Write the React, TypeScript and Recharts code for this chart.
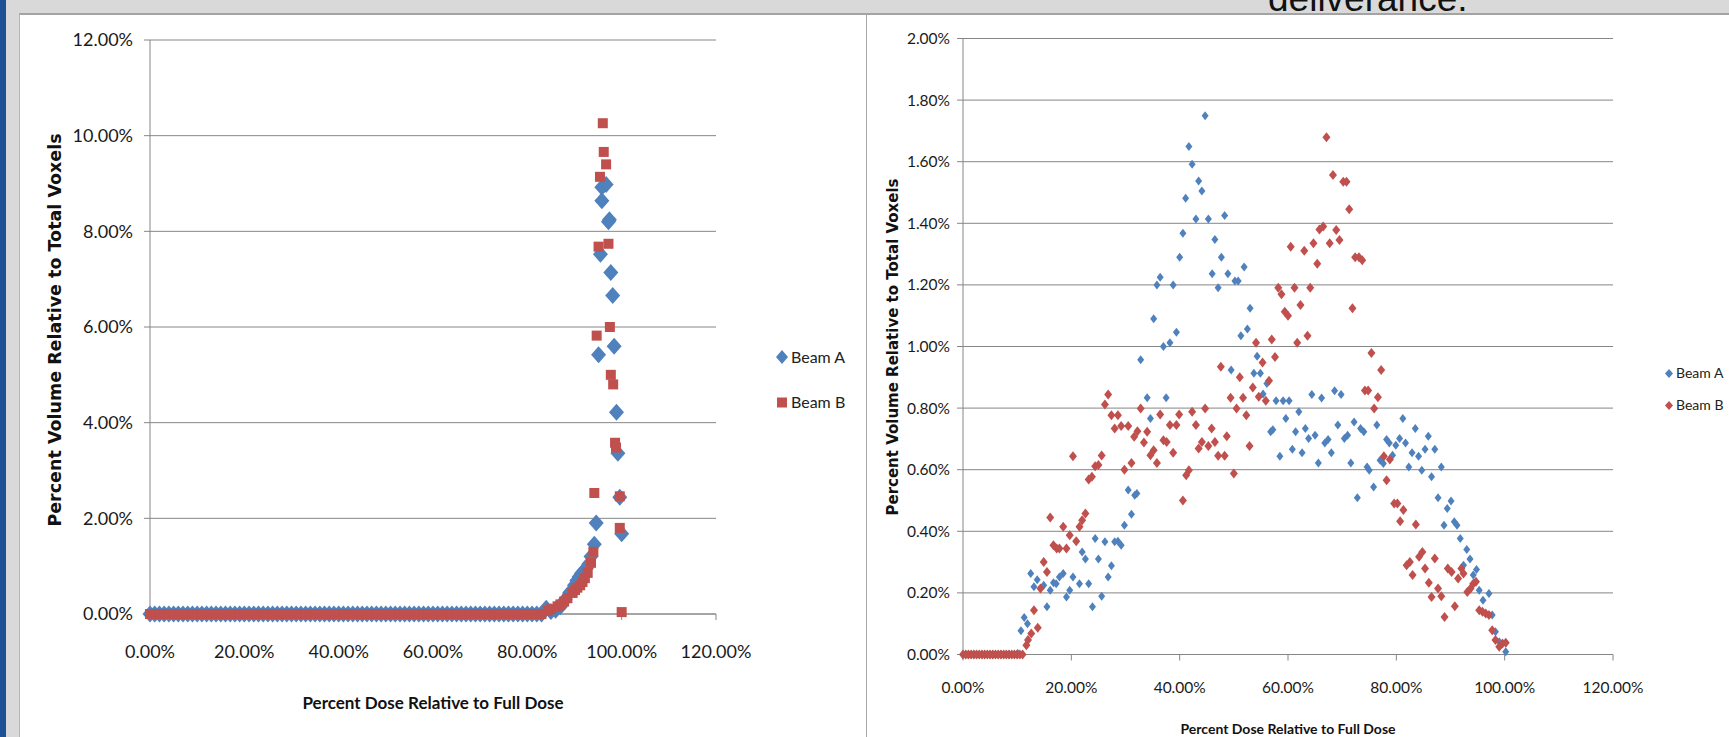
import React from "react";
import { ScatterChart, Scatter, XAxis, YAxis, CartesianGrid } from "recharts";

const BLUE = "#4f81bd";
const RED = "#c0504d";
const GRID = "#868686";
const CALIBRI = "Lato, 'Open Sans', sans-serif";
const VERDANA = "'DejaVu Sans', Verdana, sans-serif";

const seriesNames = ["Beam A", "Beam B"];
const doseTicks = [0, 20, 40, 60, 80, 100, 120];
const leftVolumeTicks = [0, 2, 4, 6, 8, 10, 12];
const rightVolumeTicks = [0, 0.2, 0.4, 0.6, 0.8, 1, 1.2, 1.4, 1.6, 1.8, 2];

// left chart: both beams sit on 0% for every dose bin up to ~83%
const leftZeroDose = [
  0, 1, 2, 3, 4, 5, 6, 7, 8, 9, 10, 11, 12, 13, 14, 15, 16, 17, 18, 19, 20, 21, 22, 23, 24, 25, 26, 27,
  28, 29, 30, 31, 32, 33, 34, 35, 36, 37, 38, 39, 40, 41, 42, 43, 44, 45, 46, 47, 48, 49, 50, 51, 52, 53,
  54, 55, 56, 57, 58, 59, 60, 61, 62, 63, 64, 65, 66, 67, 68, 69, 70, 71, 72, 73, 74, 75, 76, 77, 78, 79,
  80, 81, 82, 83,
];

const leftBeamADose = [
  84, 85, 86, 87, 88, 89, 90, 90.5, 91, 91.5, 92, 92.5, 93, 93.5, 94.2, 94.6, 95.1, 95.5, 95.8, 95.8,
  96.7, 97.2, 97.4, 97.7, 98.1, 98.4, 98.9, 99.2, 99.6, 100,
];
const leftBeamAVolume = [
  0.12, 0.05, 0.08, 0.15, 0.3, 0.45, 0.6, 0.7, 0.78, 0.85, 0.9, 0.95, 1.04, 1.2, 1.46, 1.9, 5.42, 7.52,
  8.64, 8.92, 8.98, 8.2, 8.24, 7.14, 6.66, 5.6, 4.22, 3.36, 2.44, 1.68,
];

const leftBeamBDose = [
  84.3, 85, 86.4, 87, 87.8, 88.5, 89.6, 90.1, 90.6, 91.2, 91.7, 92.2, 92.8, 93.5, 94, 94.2, 94.7, 95.1,
  95.4, 96, 96.2, 96.7, 97.2, 97.5, 97.7, 98.2, 98.6, 98.8, 99.6, 99.6, 100,
];
const leftBeamBVolume = [
  0.07, 0.1, 0.16, 0.2, 0.26, 0.33, 0.44, 0.5, 0.55, 0.6, 0.67, 0.75, 0.86, 1.07, 1.3, 2.53, 5.82, 7.68,
  9.14, 10.26, 9.66, 9.4, 7.74, 6.0, 5.0, 4.8, 3.58, 3.48, 2.46, 1.8, 0.04,
];

const rightBeamADose = [
  0, 0.5, 1, 1.5, 2, 2.5, 3, 3.5, 4, 4.5, 5, 5.5, 6, 6.5, 7, 7.5, 8, 8.5, 9, 9.5, 10, 10.1,
  10.7, 11.3, 11.9, 12.5, 13.1, 13.7, 14.9, 15.5, 16.1, 16.7, 17.2, 17.8, 18.5, 19.1, 19.7, 20.3,
  21.5, 22, 22.6, 23.2, 23.9, 24.4, 25, 25.6, 26.2, 26.8, 27.4, 28, 28.6, 29.2, 29.8, 30.5, 31.1,
  31.7, 32.1, 32.8, 34, 34.6, 35.2, 35.8, 36.4, 37, 37.5, 38.2, 38.8, 39.4, 40, 40.6, 41.1, 41.7,
  42.3, 43, 43.5, 44.1, 44.7, 45.3, 46, 46.5, 47.1, 47.7, 48.3, 48.9, 49.5, 50.2, 50.8, 51.3, 51.9,
  52.5, 53, 53.7, 54.3, 54.9, 55.4, 56.1, 56.8, 57.2, 57.8, 58.5, 59.1, 59.6, 60.2, 60.8, 61.4, 62,
  62.6, 63.2, 63.8, 64.4, 65, 65.6, 66.2, 66.8, 67.4, 68, 68.6, 69.2, 69.8, 70.4, 71, 71.6, 72.2,
  72.8, 73.4, 74, 74.6, 75, 75.8, 76.4, 77, 77.6, 78.2, 78.7, 79.3, 79.9, 80.6, 81.2, 81.7, 82.3,
  82.9, 83.5, 84.1, 84.7, 85.3, 85.9, 86.5, 87.1, 87.7, 88.3, 88.8, 89.4, 90.1, 90.7, 91.2, 91.8,
  92.4, 93, 93.6, 94.2, 94.8, 95.3, 96, 97.1, 97.7, 98.3, 99, 100.2,
];
const rightBeamAVolume = [
  0, 0, 0, 0, 0, 0, 0, 0, 0, 0, 0, 0, 0, 0, 0, 0, 0, 0, 0, 0, 0, 0.003,
  0.077, 0.12, 0.1, 0.263, 0.22, 0.243, 0.225, 0.155, 0.209, 0.233, 0.23, 0.252, 0.263, 0.187, 0.209, 0.252,
  0.23, 0.333, 0.31, 0.23, 0.155, 0.377, 0.31, 0.189, 0.366, 0.252, 0.288, 0.366, 0.368, 0.355, 0.42, 0.534, 0.455,
  0.517, 0.523, 0.957, 0.834, 0.766, 1.09, 1.2, 1.225, 1.0, 0.834, 1.012, 1.2, 1.046, 1.29, 1.368, 1.481, 1.649,
  1.592, 1.414, 1.537, 1.505, 1.749, 1.414, 1.236, 1.347, 1.191, 1.29, 1.425, 1.236, 0.924, 1.213, 1.213, 1.035, 1.258,
  1.057, 1.124, 0.913, 0.968, 0.913, 0.846, 0.88, 0.723, 0.73, 0.824, 0.644, 0.824, 0.766, 0.824, 0.666, 0.723, 0.788,
  0.655, 0.734, 0.701, 0.844, 0.712, 0.622, 0.833, 0.687, 0.698, 0.655, 0.856, 0.745, 0.844, 0.701, 0.712, 0.622, 0.755,
  0.509, 0.734, 0.723, 0.609, 0.598, 0.544, 0.745, 0.631, 0.62, 0.698, 0.687, 0.647, 0.679, 0.701, 0.766, 0.687, 0.609,
  0.655, 0.734, 0.644, 0.598, 0.666, 0.709, 0.577, 0.666, 0.509, 0.609, 0.42, 0.474, 0.498, 0.431, 0.42, 0.377,
  0.29, 0.341, 0.31, 0.258, 0.276, 0.209, 0.176, 0.198, 0.128, 0.074, 0.041, 0.009,
];

const rightBeamBDose = [
  0, 0.5, 1, 1.5, 2, 2.5, 3, 3.5, 4, 4.5, 5, 5.5, 6, 6.5, 7, 7.5, 8, 8.5, 9, 9.5, 10, 10.5, 11,
  11.7, 12, 12.6, 13.1, 13.8, 14.3, 14.9, 15.5, 16.1, 16.7, 17.3, 17.8, 18.5, 19.1, 19.7, 20.3, 20.9,
  21.5, 22, 22.6, 23.2, 23.8, 24.4, 25, 25.6, 26.2, 26.8, 27.4, 28, 28.6, 29.2, 29.8, 30.5, 31.1,
  31.6, 32.2, 32.8, 33.4, 34, 34.6, 35.2, 35.8, 36.4, 37, 37.6, 38.2, 38.8, 39.4, 39.9, 40.6, 41.2,
  41.7, 42.3, 43, 43.5, 44.1, 44.7, 45.3, 45.9, 46.5, 47.1, 47.6, 48.3, 48.7, 49.4, 50, 50.5, 51.1,
  51.7, 52.3, 52.9, 53.5, 54.1, 54.6, 55.3, 55.9, 56.5, 57, 57.6, 58.2, 58.8, 59.4, 60, 60.5, 61.2,
  61.7, 62.3, 63, 63.6, 64.1, 64.7, 65.4, 65.8, 66.5, 67.1, 67.7, 68.3, 68.9, 69.5, 70.2, 70.8, 71.3,
  71.9, 72.4, 73.1, 73.7, 74.2, 74.8, 75.4, 75.9, 76.6, 77.2, 77.7, 78.2, 78.8, 79.6, 80.2, 80.7,
  81.3, 81.9, 82.5, 83, 83.6, 84.2, 84.8, 85.3, 86, 86.5, 87.1, 87.7, 88.3, 88.9, 89.5, 90.2, 90.8,
  91.4, 92, 92.4, 93.1, 93.7, 94.2, 94.7, 95.3, 95.9, 96.5, 97.1, 97.7, 98.3, 99, 99.6, 100.2,
];
const rightBeamBVolume = [
  0, 0, 0, 0, 0, 0, 0, 0, 0, 0, 0, 0, 0, 0, 0, 0, 0, 0, 0, 0, 0, 0, 0,
  0.03, 0.047, 0.068, 0.144, 0.087, 0.214, 0.3, 0.268, 0.445, 0.355, 0.344, 0.344, 0.415, 0.344, 0.387, 0.644, 0.368,
  0.415, 0.436, 0.458, 0.568, 0.577, 0.611, 0.615, 0.646, 0.812, 0.844, 0.777, 0.734, 0.777, 0.742, 0.6, 0.742, 0.622,
  0.707, 0.725, 0.799, 0.688, 0.723, 0.647, 0.663, 0.622, 0.779, 0.696, 0.69, 0.745, 0.655, 0.745, 0.779, 0.5, 0.582,
  0.598, 0.788, 0.745, 0.669, 0.69, 0.799, 0.677, 0.734, 0.69, 0.645, 0.934, 0.645, 0.709, 0.834, 0.588, 0.799, 0.9,
  0.834, 0.777, 0.677, 0.867, 1.012, 0.837, 0.948, 0.824, 0.889, 1.023, 0.966, 1.191, 1.17, 1.113, 1.1, 1.324, 1.191,
  1.012, 1.135, 1.311, 1.035, 1.191, 1.335, 1.269, 1.38, 1.39, 1.679, 1.335, 1.557, 1.378, 1.346, 1.535, 1.535, 1.446,
  1.124, 1.29, 1.29, 1.28, 0.857, 0.857, 0.979, 0.799, 0.835, 0.924, 0.644, 0.566, 0.633, 0.49, 0.49, 0.433,
  0.469, 0.29, 0.3, 0.258, 0.422, 0.317, 0.333, 0.279, 0.233, 0.187, 0.312, 0.214, 0.189, 0.122, 0.279, 0.268, 0.157,
  0.247, 0.279, 0.263, 0.203, 0.214, 0.23, 0.236, 0.144, 0.139, 0.133, 0.128, 0.079, 0.047, 0.025, 0.036, 0.038,
];

const zip = (dose: number[], volume: number[]) => dose.map((d, i) => ({ dose: d, volume: volume[i] }));

const leftA = [...leftZeroDose.map((d) => ({ dose: d, volume: 0 })), ...zip(leftBeamADose, leftBeamAVolume)];
const leftB = [...leftZeroDose.map((d) => ({ dose: d, volume: 0 })), ...zip(leftBeamBDose, leftBeamBVolume)];
const rightA = zip(rightBeamADose, rightBeamAVolume);
const rightB = zip(rightBeamBDose, rightBeamBVolume);

const pct = (v: number) => `${v.toFixed(2)}%`;

const diamond = (w: number, h: number, fill: string) => (p: any) => {
  const { cx, cy } = p;
  if (cx == null || cy == null) return <g />;
  return (
    <polygon
      points={`${cx},${cy - h / 2} ${cx + w / 2},${cy} ${cx},${cy + h / 2} ${cx - w / 2},${cy}`}
      fill={fill}
    />
  );
};

const square = (s: number, fill: string) => (p: any) => {
  const { cx, cy } = p;
  if (cx == null || cy == null) return <g />;
  return <rect x={cx - s / 2} y={cy - s / 2} width={s} height={s} fill={fill} />;
};

const abs = (left: number, top: number): React.CSSProperties => ({ position: "absolute", left, top });

function LegendRow({ x, y, icon, text, size }: { x: number; y: number; icon: React.ReactNode; text: string; size: number }) {
  return (
    <div style={{ ...abs(x, y), display: "flex", alignItems: "center", transform: "translateY(-50%)", whiteSpace: "nowrap" }}>
      {icon}
      <span style={{ fontFamily: CALIBRI, fontSize: size, color: "#222", marginLeft: 3, lineHeight: 1 }}>{text}</span>
    </div>
  );
}

export default function App() {
  const axisStroke = { stroke: GRID };
  return (
    <div style={{ position: "absolute", left: 0, top: 0, width: 1729, height: 737, overflow: "hidden", background: "#d9d9d9" }}>
      {/* slide chrome */}
      <div style={{ ...abs(0, 0), width: 6, height: 737, background: "#1d5195" }} />
      <div
        style={{
          ...abs(1268, -20),
          fontFamily: "'Liberation Sans', Arial, sans-serif",
          fontSize: 37,
          lineHeight: "37px",
          color: "#111",
          whiteSpace: "nowrap",
        }}
      >
        deliverance.
      </div>
      <div style={{ ...abs(19, 13), width: 847, height: 730, background: "#fff", borderTop: "2px solid #a3a3a3", borderLeft: "1px solid #b5b5b5", boxSizing: "border-box" }} />
      <div style={{ ...abs(866, 13), width: 870, height: 730, background: "#fff", borderTop: "2px solid #a3a3a3", borderLeft: "1px solid #a8a8a8", boxSizing: "border-box" }} />

      {/* left chart */}
      <div style={abs(19, 14)}>
        <ScatterChart width={847} height={723} margin={{ top: 26, right: 150, bottom: 63, left: 0 }}>
          <CartesianGrid vertical={false} stroke={GRID} />
          <XAxis
            type="number"
            dataKey="dose"
            domain={[0, 120]}
            ticks={doseTicks}
            tickFormatter={pct}
            height={60}
            axisLine={axisStroke}
            tickLine={axisStroke}
            tickSize={6}
            tickMargin={25}
            tick={{ fill: "#1a1a1a", fontSize: 18, fontFamily: CALIBRI }}
          />
          <YAxis
            type="number"
            dataKey="volume"
            domain={[0, 12]}
            ticks={leftVolumeTicks}
            tickFormatter={pct}
            width={131}
            axisLine={axisStroke}
            tickLine={axisStroke}
            tickSize={6}
            tickMargin={11}
            tick={{ fill: "#1a1a1a", fontSize: 18, fontFamily: CALIBRI }}
          />
          <Scatter name={seriesNames[0]} data={leftA} shape={diamond(15, 17, BLUE)} isAnimationActive={false} />
          <Scatter name={seriesNames[1]} data={leftB} shape={square(10, RED)} isAnimationActive={false} />
        </ScatterChart>
      </div>

      {/* right chart */}
      <div style={abs(868, 14)}>
        <ScatterChart width={861} height={723} margin={{ top: 24.5, right: 116, bottom: 32.5, left: 0 }}>
          <CartesianGrid vertical={false} stroke={GRID} />
          <XAxis
            type="number"
            dataKey="dose"
            domain={[0, 120]}
            ticks={doseTicks}
            tickFormatter={pct}
            height={50}
            axisLine={axisStroke}
            tickLine={axisStroke}
            tickSize={6}
            tickMargin={21}
            tick={{ fill: "#1a1a1a", fontSize: 15.5, fontFamily: CALIBRI }}
          />
          <YAxis
            type="number"
            dataKey="volume"
            domain={[0, 2]}
            ticks={rightVolumeTicks}
            tickFormatter={pct}
            width={95}
            axisLine={axisStroke}
            tickLine={axisStroke}
            tickSize={6}
            tickMargin={7}
            tick={{ fill: "#1a1a1a", fontSize: 15.5, fontFamily: CALIBRI }}
          />
          <Scatter name={seriesNames[0]} data={rightA} shape={diamond(7, 9, BLUE)} isAnimationActive={false} />
          <Scatter name={seriesNames[1]} data={rightB} shape={diamond(8, 10, RED)} isAnimationActive={false} />
        </ScatterChart>
      </div>

      {/* axis titles */}
      <div style={{ ...abs(55, 330), transform: "translate(-50%, -50%) rotate(-90deg)", fontFamily: VERDANA, fontWeight: "bold", fontSize: 17.5, whiteSpace: "nowrap", color: "#111" }}>
        Percent Volume Relative to Total Voxels
      </div>
      <div style={{ ...abs(433, 702), transform: "translate(-50%, -50%)", fontFamily: CALIBRI, fontWeight: "bold", fontSize: 17, whiteSpace: "nowrap", color: "#111" }}>
        Percent Dose Relative to Full Dose
      </div>
      <div style={{ ...abs(893, 347), transform: "translate(-50%, -50%) rotate(-90deg)", fontFamily: VERDANA, fontWeight: "bold", fontSize: 15, whiteSpace: "nowrap", color: "#111" }}>
        Percent Volume Relative to Total Voxels
      </div>
      <div style={{ ...abs(1288, 728), transform: "translate(-50%, -50%)", fontFamily: CALIBRI, fontWeight: "bold", fontSize: 14, whiteSpace: "nowrap", color: "#111" }}>
        Percent Dose Relative to Full Dose
      </div>

      {/* legends */}
      <LegendRow
        x={776}
        y={357}
        size={16}
        text={seriesNames[0]}
        icon={<svg width={12} height={14}><polygon points="6,0 12,7 6,14 0,7" fill={BLUE} /></svg>}
      />
      <LegendRow
        x={777}
        y={402}
        size={16}
        text={seriesNames[1]}
        icon={<svg width={11} height={11}><rect width={10} height={10} y={0.5} fill={RED} /></svg>}
      />
      <LegendRow
        x={1665}
        y={373}
        size={14}
        text={seriesNames[0]}
        icon={<svg width={8} height={9}><polygon points="4,0 8,4.5 4,9 0,4.5" fill={BLUE} /></svg>}
      />
      <LegendRow
        x={1665}
        y={405}
        size={14}
        text={seriesNames[1]}
        icon={<svg width={8} height={9}><polygon points="4,0 8,4.5 4,9 0,4.5" fill={RED} /></svg>}
      />
    </div>
  );
}
